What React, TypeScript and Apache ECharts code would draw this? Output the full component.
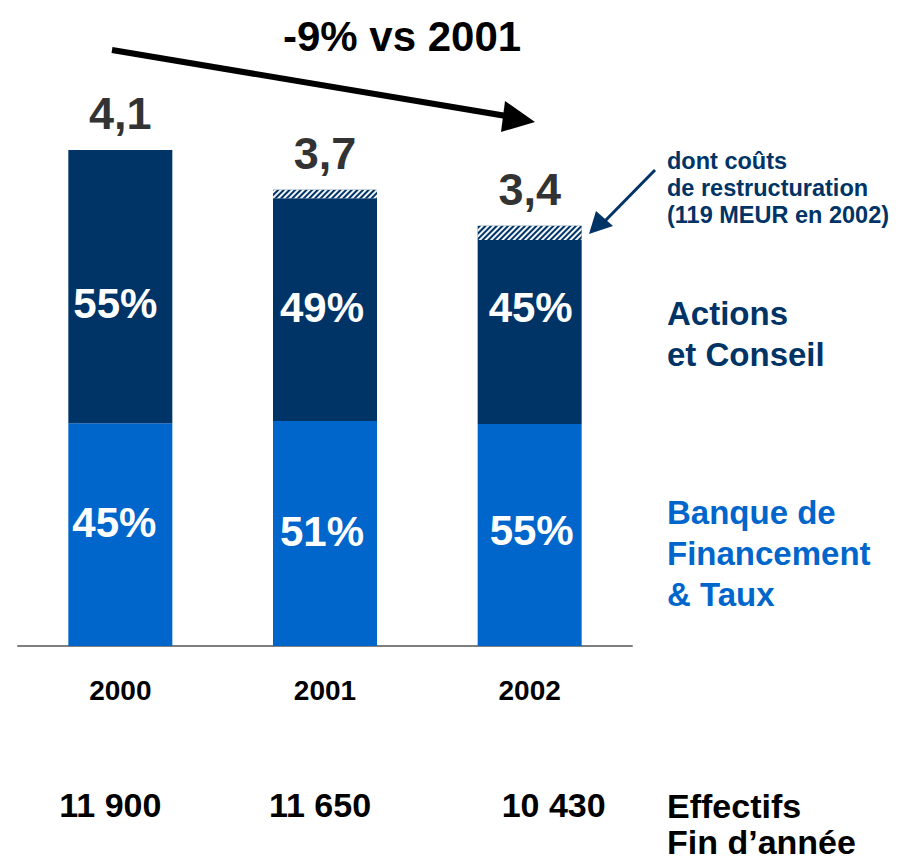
import React, { useEffect, useRef } from "react";
import * as echarts from "echarts";

// ---- data ----
const years = ["2000", "2001", "2002"];
// Banque de Financement & Taux (bottom segment, EUR bn)
const banqueValues = [1.84, 1.86, 1.835];
// Actions et Conseil (middle segment, EUR bn)
const actionsValues = [2.26, 1.84, 1.52];
// restructuring costs (hatched top segment, EUR bn)
const restructValues = [0, 0.07, 0.119];
const totalLabels = ["4,1", "3,7", "3,4"];
const banqueShares = ["45%", "51%", "55%"];
const actionsShares = ["55%", "49%", "45%"];
const headcounts = ["11 900", "11 650", "10 430"];

// ---- styling ----
const NAVY = "#003366";
const BLUE = "#0066CC";
const FONT = "'Liberation Sans', Arial, Helvetica, sans-serif";
const actionsLabelOffsets = [[-5, 17], [-3, -2], [1, -25]];
const banqueLabelOffsets = [[-6, -12], [-3, -2], [2, -4]];
const headcountPad = [
  [0, 20, 0, 0],
  [0, 10, 0, 0],
  [0, 0, 0, 48],
];

export default function App() {
  const ref = useRef<HTMLDivElement>(null);

  useEffect(() => {
    if (!ref.current) return;
    const chart = echarts.init(ref.current, null, { renderer: "svg" });

    const pctLabel = (texts: string[]) => ({
      show: true,
      position: "inside",
      color: "#ffffff",
      fontSize: 42,
      fontWeight: "bold",
      fontFamily: FONT,
      formatter: (p: any) => texts[p.dataIndex],
    });

    const option: any = {
      animation: false,
      backgroundColor: "#ffffff",
      textStyle: { fontFamily: FONT },
      grid: { left: 18, right: 265, top: 41, bottom: 214, containLabel: false },
      xAxis: [
        {
          type: "category",
          data: years,
          position: "bottom",
          axisLine: { show: true, lineStyle: { color: "#7f7f7f", width: 2 } },
          axisTick: { show: false },
          axisLabel: {
            interval: 0,
            margin: 30,
            color: "#000000",
            fontSize: 28,
            fontWeight: "bold",
            fontFamily: FONT,
          },
        },
        {
          type: "category",
          data: years,
          position: "bottom",
          axisLine: { show: false },
          axisTick: { show: false },
          axisLabel: {
            interval: 0,
            hideOverlap: false,
            margin: 142,
            color: "#000000",
            fontSize: 34,
            fontWeight: "bold",
            fontFamily: FONT,
            formatter: (_v: string, i: number) => `{h${i}|${headcounts[i]}}`,
            rich: {
              h0: { padding: headcountPad[0], fontSize: 34, fontWeight: "bold", color: "#000", fontFamily: FONT },
              h1: { padding: headcountPad[1], fontSize: 34, fontWeight: "bold", color: "#000", fontFamily: FONT },
              h2: { padding: headcountPad[2], fontSize: 34, fontWeight: "bold", color: "#000", fontFamily: FONT },
            },
          },
        },
      ],
      yAxis: {
        type: "value",
        min: 0,
        max: 5,
        show: false,
        splitLine: { show: false },
      },
      series: [
        {
          name: "Banque de Financement & Taux",
          type: "bar",
          stack: "total",
          barWidth: 104,
          data: banqueValues.map((v, i) => ({
            value: v,
            label: { offset: banqueLabelOffsets[i] },
          })),
          itemStyle: { color: BLUE },
          label: pctLabel(banqueShares),
        },
        {
          name: "Actions et Conseil",
          type: "bar",
          stack: "total",
          barWidth: 104,
          data: actionsValues.map((v, i) => ({
            value: v,
            label: { offset: actionsLabelOffsets[i] },
          })),
          itemStyle: { color: NAVY },
          label: pctLabel(actionsShares),
        },
        {
          name: "Coûts de restructuration",
          type: "bar",
          stack: "total",
          barWidth: 104,
          data: restructValues,
          itemStyle: {
            color: NAVY,
            decal: {
              symbol: "rect",
              symbolSize: 1,
              color: "rgba(255,255,255,0.95)",
              dashArrayX: [1, 0],
              dashArrayY: [1.3, 1.5],
              rotation: -Math.PI / 4,
            },
          },
          label: {
            show: true,
            position: "top",
            distance: 14,
            color: "#333333",
            fontSize: 45,
            fontWeight: "bold",
            fontFamily: FONT,
            formatter: (p: any) => totalLabels[p.dataIndex],
          },
        },
      ],
      graphic: [
        {
          type: "text",
          x: 283,
          y: 36,
          style: {
            text: "-9% vs 2001",
            fill: "#000000",
            fontSize: 42,
            fontWeight: "bold",
            fontFamily: FONT,
            align: "left",
            verticalAlign: "middle",
          },
        },
        {
          type: "line",
          shape: { x1: 112, y1: 50, x2: 512, y2: 117 },
          style: { stroke: "#000000", lineWidth: 6 },
        },
        {
          type: "polygon",
          shape: { points: [[505, 101], [535, 122], [501, 132]] },
          style: { fill: "#000000" },
        },
        {
          type: "line",
          shape: { x1: 655, y1: 170, x2: 602, y2: 224 },
          style: { stroke: NAVY, lineWidth: 3 },
        },
        {
          type: "polygon",
          shape: { points: [[596, 211], [613, 226], [589, 234]] },
          style: { fill: NAVY },
        },
        {
          type: "text",
          x: 667,
          y: 147,
          style: {
            text: "dont coûts\nde restructuration\n(119 MEUR en 2002)",
            fill: NAVY,
            fontSize: 23.5,
            lineHeight: 27,
            fontWeight: "bold",
            fontFamily: FONT,
            align: "left",
            verticalAlign: "top",
          },
        },
        {
          type: "text",
          x: 667,
          y: 293,
          style: {
            text: "Actions\net Conseil",
            fill: NAVY,
            fontSize: 33,
            lineHeight: 41,
            fontWeight: "bold",
            fontFamily: FONT,
            align: "left",
            verticalAlign: "top",
          },
        },
        {
          type: "text",
          x: 667,
          y: 492,
          style: {
            text: "Banque de\nFinancement\n& Taux",
            fill: BLUE,
            fontSize: 33,
            lineHeight: 41,
            fontWeight: "bold",
            fontFamily: FONT,
            align: "left",
            verticalAlign: "top",
          },
        },
        {
          type: "text",
          x: 667,
          y: 788,
          style: {
            text: "Effectifs\nFin d’année",
            fill: "#000000",
            fontSize: 34,
            lineHeight: 36,
            fontWeight: "bold",
            fontFamily: FONT,
            align: "left",
            verticalAlign: "top",
          },
        },
      ],
    };

    chart.setOption(option);
    return () => chart.dispose();
  }, []);

  return (
    <div
      ref={ref}
      style={{ position: "absolute", left: 0, top: 0, width: 897, height: 860 }}
    />
  );
}
